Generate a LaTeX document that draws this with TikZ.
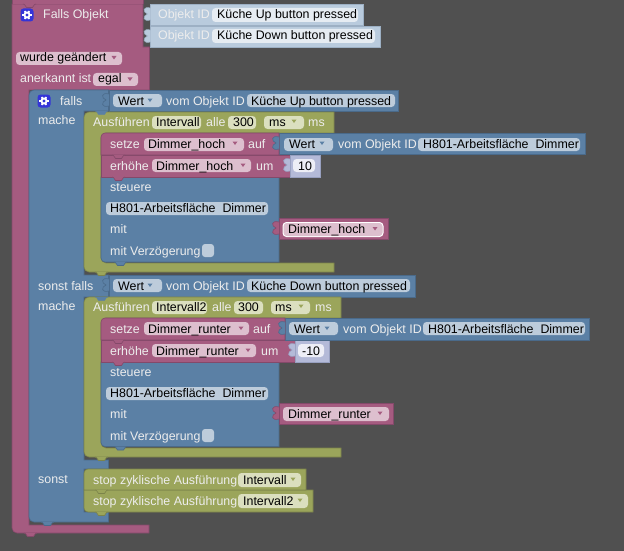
\documentclass[tikz,border=0pt]{standalone}
\usepackage{fontspec}
\setmainfont{Liberation Sans}
\definecolor{bg}{HTML}{505050}
\definecolor{pk}{HTML}{A55B80}\definecolor{pkd}{HTML}{84496A}\definecolor{pkf}{HTML}{DDBFCE}
\definecolor{bl}{HTML}{5B80A5}\definecolor{bld}{HTML}{4A6A8A}\definecolor{blf}{HTML}{BDCCDB}
\definecolor{ol}{HTML}{9BA55B}\definecolor{old}{HTML}{7C844A}\definecolor{olf}{HTML}{DBDFBF}
\definecolor{lb}{HTML}{B9CBDD}\definecolor{lbd}{HTML}{9DB0C4}\definecolor{lbf}{HTML}{E6ECF2}
\definecolor{lv}{HTML}{B4BAD8}\definecolor{lvd}{HTML}{98A0C0}\definecolor{lvf}{HTML}{EDEEF6}
\definecolor{ic}{HTML}{3434D8}
\newcount\nn
\tikzset{
  x=1pt,y=-1pt,
  pkb/.style={fill=pk,draw=pkd,line width=.6pt},
  blb/.style={fill=bl,draw=bld,line width=.6pt},
  olb/.style={fill=ol,draw=old,line width=.6pt},
  lbb/.style={fill=lb,draw=lbd,line width=.6pt},
  lvb/.style={fill=lv,draw=lvd,line width=.6pt},
  lbl/.style={anchor=base west,inner sep=0pt,text=white!93!black,font=\fontsize{12.4}{15}\selectfont},
  val/.style={anchor=base west,inner sep=0pt,text=black,font=\fontsize{12.4}{15}\selectfont},
}
% text label
\newcommand\tx[3]{\global\advance\nn by 1 \node[lbl] (t\the\nn) at (#1,#2) {#3};}
% field: colour, x1, x2, ytop, ybot, textx, baseline, text
\newcommand\fld[8]{\global\advance\nn by 1
  \fill[#1,rounded corners=3.5pt] (#2,#4) rectangle (#3,#5);
  \node[val] (t\the\nn) at (#6,#7) {#8};}
\newcommand\arr[3]{\fill[#1,shift={(#2,#3)}] (-2.5,-1.5) -- (2.5,-1.5) -- (0,2) -- cycle;}
\newcommand\tabd[3]{\path[#1] (#2,#3) -- ++(1.5,.5) -- ++(2,3) -- ++(6,0) -- ++(2,-3) -- ++(1.5,-.5);}
\newcommand\puz[3]{\path[#1,shift={(#2,#3)}] (0,4) .. controls (-8,2) and (-8,8) .. (-3,10) .. controls (-8,12) and (-8,18) .. (0,16);}
\newcommand\gear[2]{\begin{scope}[shift={(#1,#2)}]
  \fill[ic,rounded corners=3pt] (-6.5,-6.5) rectangle (6.5,6.5);
  \foreach \a in {0,60,...,300}{\draw[white,line width=1.6pt] (\a:2.5) -- (\a:4.6);}
  \fill[white] (0,0) circle (3.6);\fill[ic] (0,0) circle (1.6);
  \end{scope}}
\begin{document}
\begin{tikzpicture}
\useasboundingbox (0,0) rectangle (624,551);
\fill[bg] (0,0) rectangle (624,551);
% pink hat block
\path[pkb] (12,4) -- (143,4) -- (143,47) -- (149.5,47) -- (149.5,90) -- (29,90) -- (29,525) -- (149,525) -- (149,533) [rounded corners=5pt] -- (12,533) [sharp corners] -- cycle;
\fill[pk] (12,0) rectangle (143,3.6);
\draw[pkd,line width=.6pt] (12,0) -- (12,4);\draw[pkd,line width=.6pt] (143,0) -- (143,4);
% object id blocks
\path[lbb] (150,4) -- (363,4) -- (363,25.6) -- (150,25.6) -- cycle;
\path[lbb] (150,26) -- (380,26) -- (380,47) -- (150,47) -- cycle;
\puz{lbb}{150.5}{4}\puz{lbb}{150.5}{26}
% blue if block
\path[blb] (108.5,90) -- (108.5,111) -- (84,111) -- (84,275) -- (108.5,275) -- (108.5,297) -- (84,297) -- (84,460) -- (108.5,460) -- (108.5,469) -- (84,469) -- (84,512) -- (108.5,512) -- (108.5,522) [rounded corners=5pt] -- (29,522) -- (29,90) [sharp corners] -- cycle;
% conditions
\path[blb] (109,90) -- (398,90) -- (398,111) -- (109,111) -- cycle;
\puz{blb}{109}{90}
\path[blb] (109,275) -- (415,275) -- (415,297) -- (109,297) -- cycle;
\puz{blb}{109}{275}
% olive interval 1
\path[olb] (334,112) -- (334,133) [rounded corners=5pt] -- (101,133) -- (101,263) [sharp corners] -- (334,263) -- (334,272) [rounded corners=5pt] -- (84,272) -- (84,112) [sharp corners] -- cycle;
% olive interval 2
\path[olb] (341,297) -- (341,318) [rounded corners=5pt] -- (101,318) -- (101,448) [sharp corners] -- (341,448) -- (341,457) [rounded corners=5pt] -- (84,457) -- (84,297) [sharp corners] -- cycle;
% inner blocks 1
\path[blb] (101,177) -- (279,177) -- (279,262) [rounded corners=4pt] -- (101,262) [sharp corners] -- cycle;
\path[pkb] (101,155) -- (290,155) -- (290,177) -- (101,177) -- cycle;
\path[lvb] (290,155) -- (320,155) -- (320,177) -- (290,177) -- cycle;\puz{lvb}{290}{155}
\path[blb] (279,133) -- (585,133) -- (585,154.5) -- (279,154.5) -- cycle;
\path[pkb] (279,133) [rounded corners=4pt] -- (101,133) [sharp corners] -- (101,155) -- (279,155) -- cycle;
\puz{blb}{279}{133}
\path[pkb] (279,218) -- (388,218) -- (388,239.5) -- (279,239.5) -- cycle;\puz{pkb}{279}{218}
% inner blocks 2
\path[blb] (101,362) -- (279,362) -- (279,446.5) [rounded corners=4pt] -- (101,446.5) [sharp corners] -- cycle;
\path[pkb] (101,340) -- (295,340) -- (295,362) -- (101,362) -- cycle;
\path[lvb] (295,340) -- (329,340) -- (329,362) -- (295,362) -- cycle;\puz{lvb}{295}{340}
\path[blb] (285,318) -- (589,318) -- (589,340) -- (285,340) -- cycle;
\path[pkb] (285,318) [rounded corners=4pt] -- (101,318) [sharp corners] -- (101,340) -- (285,340) -- cycle;
\puz{blb}{285}{318}
\path[pkb] (279,403) -- (393,403) -- (393,424.5) -- (279,424.5) -- cycle;\puz{pkb}{279}{403}
% stop blocks
\path[olb] (84,490) -- (313,490) -- (313,512) [rounded corners=4pt] -- (84,512) [sharp corners] -- cycle;
\path[olb] (306,469) -- (306,490) -- (84,490) [rounded corners=4pt] -- (84,469) [sharp corners] -- cycle;
% tabs
\tabd{fill=pk,draw=pkd,line width=.6pt}{23}{4}
\tabd{fill=pk,draw=pkd,line width=.6pt}{24}{533}
\tabd{fill=bl,draw=bld,line width=.6pt}{41}{522}
\tabd{fill=bl,draw=bl}{95}{111}
\tabd{fill=bl,draw=bl}{95}{297}
\tabd{fill=ol,draw=old,line width=.6pt}{95}{272}
\tabd{fill=ol,draw=old,line width=.6pt}{95}{457}
\tabd{fill=pk,draw=pkd,line width=.6pt}{112}{155}
\tabd{fill=pk,draw=pkd,line width=.6pt}{112}{177}
\tabd{fill=bl,draw=bld,line width=.6pt}{114}{262}
\tabd{fill=pk,draw=pkd,line width=.6pt}{112}{340}
\tabd{fill=pk,draw=pkd,line width=.6pt}{112}{362}
\tabd{fill=bl,draw=bld,line width=.6pt}{114}{446.5}
\tabd{fill=ol,draw=old,line width=.6pt}{95}{490}
\tabd{fill=ol,draw=old,line width=.6pt}{95}{512}
% icons
\gear{27}{15}\gear{44}{101}
% pink header texts
\tx{43}{19}{Falls Objekt}
\tx{158}{19}{Objekt ID}\fld{lbf}{212}{358}{8}{22}{217}{19}{Küche Up button pressed}
\tx{158}{40}{Objekt ID}\fld{lbf}{212}{375}{29}{43}{217}{40}{Küche Down button pressed}
\fld{pkf}{16}{122}{52}{65}{20}{62}{wurde geändert}\arr{pk}{114}{57.5}
\tx{20}{83}{anerkannt ist}\fld{pkf}{93}{138}{73}{86}{98}{83}{egal}\arr{pk}{130}{79}
% falls
\tx{60}{105}{falls}
\fld{blf}{113}{162}{94}{107}{118}{105}{Wert}\arr{bl}{150}{100}
\tx{166}{105}{vom Objekt ID}\fld{blf}{247}{395}{94}{107}{251}{105}{Küche Up button pressed}
\tx{38}{124}{mache}
\tx{93}{126}{Ausführen}\fld{olf}{152}{201}{116}{129}{156}{126}{Intervall}
\tx{206}{126}{alle}\fld{olf}{228}{256}{116}{129}{233}{126}{300}
\fld{olf}{264}{304}{116}{129}{269}{126}{ms}\arr{ol}{294}{121}\tx{308}{126}{ms}
\tx{110}{148}{setze}\fld{pkf}{144}{244}{138}{151}{148}{148}{Dimmer\_hoch}\arr{pk}{235}{143}\tx{248}{148}{auf}
\fld{blf}{284}{333}{138}{151}{289}{148}{Wert}\arr{bl}{322}{143}
\tx{338}{148}{vom Objekt ID}\fld{blf}{418}{580}{138}{151}{423}{148}{H801-Arbeitsfläche~~Dimmer}
\tx{110}{170}{erhöhe}\fld{pkf}{152}{251}{159}{172}{156}{170}{Dimmer\_hoch}\arr{pk}{243}{165}\tx{256}{170}{um}
\fld{lvf}{293}{315}{159}{172}{298}{170}{10}
\tx{110}{191}{steuere}
\fld{blf}{106}{268}{202}{215}{110}{212}{H801-Arbeitsfläche~~Dimmer}
\tx{110}{233}{mit}
\tx{110}{255}{mit Verzögerung}\fill[blf,rounded corners=3pt] (202,244) rectangle (214,257);
\draw[white,fill=pkf,line width=1pt,rounded corners=3.5pt] (283,222.5) rectangle (383,236.5);
\fld{pkf}{284}{382}{223}{236}{288}{233}{Dimmer\_hoch}\arr{pk}{375}{228.5}
% sonst falls
\tx{38}{290}{sonst falls}
\fld{blf}{113}{162}{279}{292}{118}{290}{Wert}\arr{bl}{150}{285}
\tx{166}{290}{vom Objekt ID}\fld{blf}{247}{410}{279}{292}{251}{290}{Küche Down button pressed}
\tx{38}{310}{mache}
\tx{93}{311}{Ausführen}\fld{olf}{152}{207}{301}{314}{156}{311}{Intervall2}
\tx{212}{311}{alle}\fld{olf}{234}{263}{301}{314}{238}{311}{300}
\fld{olf}{271}{310}{301}{314}{275}{311}{ms}\arr{ol}{301}{306}\tx{315}{311}{ms}
\tx{110}{333}{setze}\fld{pkf}{144}{249}{322}{335}{148}{333}{Dimmer\_runter}\arr{pk}{241}{328}\tx{253}{333}{auf}
\fld{blf}{289}{338}{322}{335}{294}{333}{Wert}\arr{bl}{327}{328}
\tx{343}{333}{vom Objekt ID}\fld{blf}{423}{585}{322}{335}{428}{333}{H801-Arbeitsfläche~~Dimmer}
\tx{110}{355}{erhöhe}\fld{pkf}{152}{256}{344}{357}{156}{355}{Dimmer\_runter}\arr{pk}{248}{350}\tx{261}{355}{um}
\fld{lvf}{298}{324}{344}{357}{302}{355}{-10}
\tx{110}{376}{steuere}
\fld{blf}{106}{268}{387}{400}{110}{397}{H801-Arbeitsfläche~~Dimmer}
\tx{110}{418}{mit}
\tx{110}{440}{mit Verzögerung}\fill[blf,rounded corners=3pt] (202,429) rectangle (214,442);
\fld{pkf}{283}{389}{407}{421}{288}{418}{Dimmer\_runter}\arr{pk}{380}{413}
% sonst
\tx{38}{483}{sonst}
\tx{93}{484}{stop zyklische Ausführung}\fld{olf}{238}{301}{473}{487}{243}{484}{Intervall}\arr{ol}{293}{479}
\tx{93}{505}{stop zyklische Ausführung}\fld{olf}{238}{308}{494}{508}{243}{505}{Intervall2}\arr{ol}{300}{500}
\end{tikzpicture}
\end{document}
